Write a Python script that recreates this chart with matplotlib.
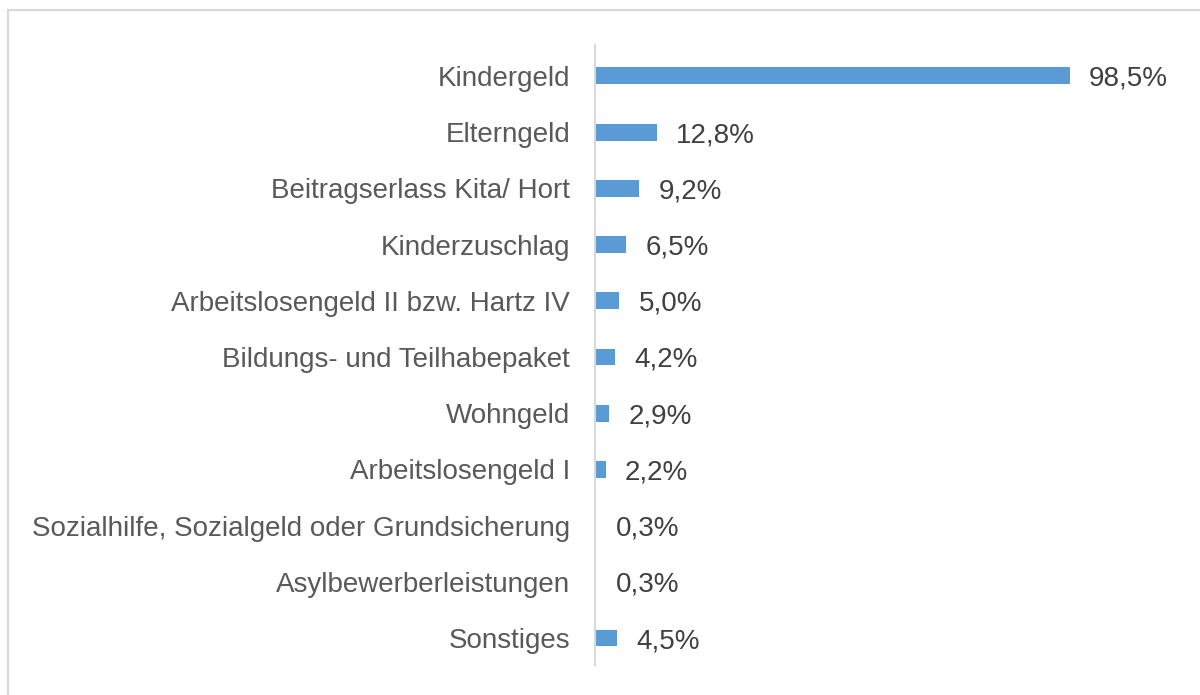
import matplotlib
matplotlib.use("Agg")
import matplotlib.pyplot as plt
from matplotlib.patches import Rectangle

categories = ["Kindergeld", "Elterngeld", "Beitragserlass Kita/ Hort", "Kinderzuschlag",
              "Arbeitslosengeld II bzw. Hartz IV", "Bildungs- und Teilhabepaket", "Wohngeld",
              "Arbeitslosengeld I", "Sozialhilfe, Sozialgeld oder Grundsicherung",
              "Asylbewerberleistungen", "Sonstiges"]
values = [98.5, 12.8, 9.2, 6.5, 5.0, 4.2, 2.9, 2.2, 0.3, 0.3, 4.5]
labels = ["98,5%", "12,8%", "9,2%", "6,5%", "5,0%", "4,2%", "2,9%", "2,2%", "0,3%", "0,3%", "4,5%"]

plt.rcParams['font.family'] = ['Liberation Sans', 'DejaVu Sans']

W, H = 1200, 695
fig = plt.figure(figsize=(12, 6.95), dpi=100)
fig.patches.append(Rectangle((8 / W, -0.1), 1.2, 1 - 10 / H + 0.1, transform=fig.transFigure,
                             fill=False, edgecolor="#d9d9d9", linewidth=1.5, zorder=0))

left, right = 595, 1190
top, bottom = 45, 665
ax = fig.add_axes([left / W, 1 - bottom / H, (right - left) / W, (bottom - top) / H])

n = len(categories)
ypos = list(range(n))
ax.barh(ypos, values, height=0.3, color="#5b9bd5")
ax.set_ylim(n - 1 + 0.48, -0.55)
ax.set_xlim(0, (right - left) / 4.82)

for y, v, lab in zip(ypos, values, labels):
    ax.annotate(lab, (v, y), xytext=(14, 0), textcoords="offset points",
                va="center_baseline", ha="left", fontsize=20, color="#404040")

ax.set_yticks(ypos)
ax.set_yticklabels(categories, fontsize=20, color="#595959")
ax.tick_params(axis="y", length=0, pad=18)
ax.set_xticks([])
for s in ["top", "right", "bottom"]:
    ax.spines[s].set_visible(False)
ax.spines["left"].set_color("#d9d9d9")
ax.spines["left"].set_linewidth(1.5)

fig.savefig("out.png", dpi=100)
